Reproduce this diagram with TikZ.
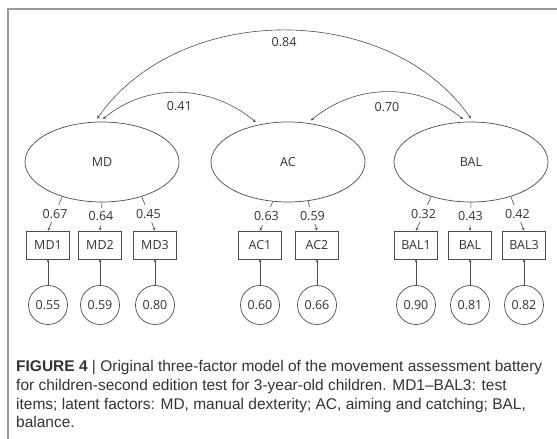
\documentclass[tikz,border=0pt]{standalone}
\usepackage{fontspec}
\setmainfont{Liberation Sans}
\newfontfamily\diagfont{Open Sans}
\usetikzlibrary{arrows.meta,shapes.geometric}

\tikzset{
  latent/.style={ellipse, draw=black!70, line width=0.7pt, minimum width=154pt, minimum height=80pt, inner sep=0pt},
  item/.style={rectangle, draw=black!70, line width=0.7pt, minimum width=43pt, minimum height=28pt, inner sep=0pt},
  err/.style={circle, draw=black!70, line width=0.7pt, minimum size=39pt, inner sep=0pt},
  load/.style={fill=white, inner xsep=1pt, inner ysep=4pt},
  arr/.style={draw=black!70, line width=0.6pt, -{Stealth[length=3pt,width=3pt]}},
  cov/.style={draw=black!70, line width=0.6pt, {Stealth[length=3pt,width=3pt]}-{Stealth[length=3pt,width=3pt]}, shorten <=4pt, shorten >=4pt},
  caption/.style={font=\fontsize{15.5}{18.7}\selectfont, align=left, inner sep=0pt, text=black!80}
}

\begin{document}
\begin{tikzpicture}[x=1pt, y=1pt, every node/.style={font=\diagfont\fontsize{12.5}{15}\selectfont, text=black!80}]
  \useasboundingbox (0,0) rectangle (557,439);
  % Frame
  \draw[black!40, line width=2pt] (7.5,0) -- (7.5,429.5) -- (557,429.5);
  % Latent factors
  \node[latent] (MD) at (102,277) {MD};
  \node[latent] (AC) at (288,277) {AC};
  \node[latent] (BAL) at (471,277) {BAL};
  % Test items and errors
  \foreach \n/\t/\x/\e in {MD1/MD1/48/0.55, MD2/MD2/100/0.59, MD3/MD3/155/0.80,
    AC1/AC1/260/0.60, AC2/AC2/317/0.66,
    BAL1/BAL1/416/0.90, BAL2/BAL/470/0.81, BAL3/BAL3/524/0.82}{
    \node[item] (\n) at (\x,194) {\t};
    \node[err] (e\n) at (\x,134) {\e};
    \draw[arr] (e\n) -- (\n);
  }
  % Loadings
  \foreach \f/\a/\n/\l in {MD/221/MD1/0.67, MD/270/MD2/0.64, MD/319/MD3/0.45,
    AC/249/AC1/0.63, AC/297/AC2/0.59,
    BAL/221/BAL1/0.32, BAL/270/BAL2/0.43, BAL/319/BAL3/0.42}
    \draw[arr] (\f.\a) -- node[load] {\l} (\n.north);
  % Covariances
  \draw[cov] (BAL.87) to[out=125, in=55] node[below=3pt] {0.84} (MD.100);
  \draw[cov] (AC.128) to[out=140, in=40] node[below=5pt] {0.41} (MD.93);
  \draw[cov] (AC.63) to[out=40, in=140] node[below=6pt] {0.70} (BAL.97);
  % Caption (base is the last line)
  \node[caption, anchor=base west] (cap) at (16,11) {\textbf{FIGURE 4} | Original three-factor model of the movement assessment battery\\
    for children-second edition test for 3-year-old children. MD1--BAL3: test\\
    items; latent factors: MD, manual dexterity; AC, aiming and catching; BAL,\\
    balance.};
\end{tikzpicture}
\end{document}
